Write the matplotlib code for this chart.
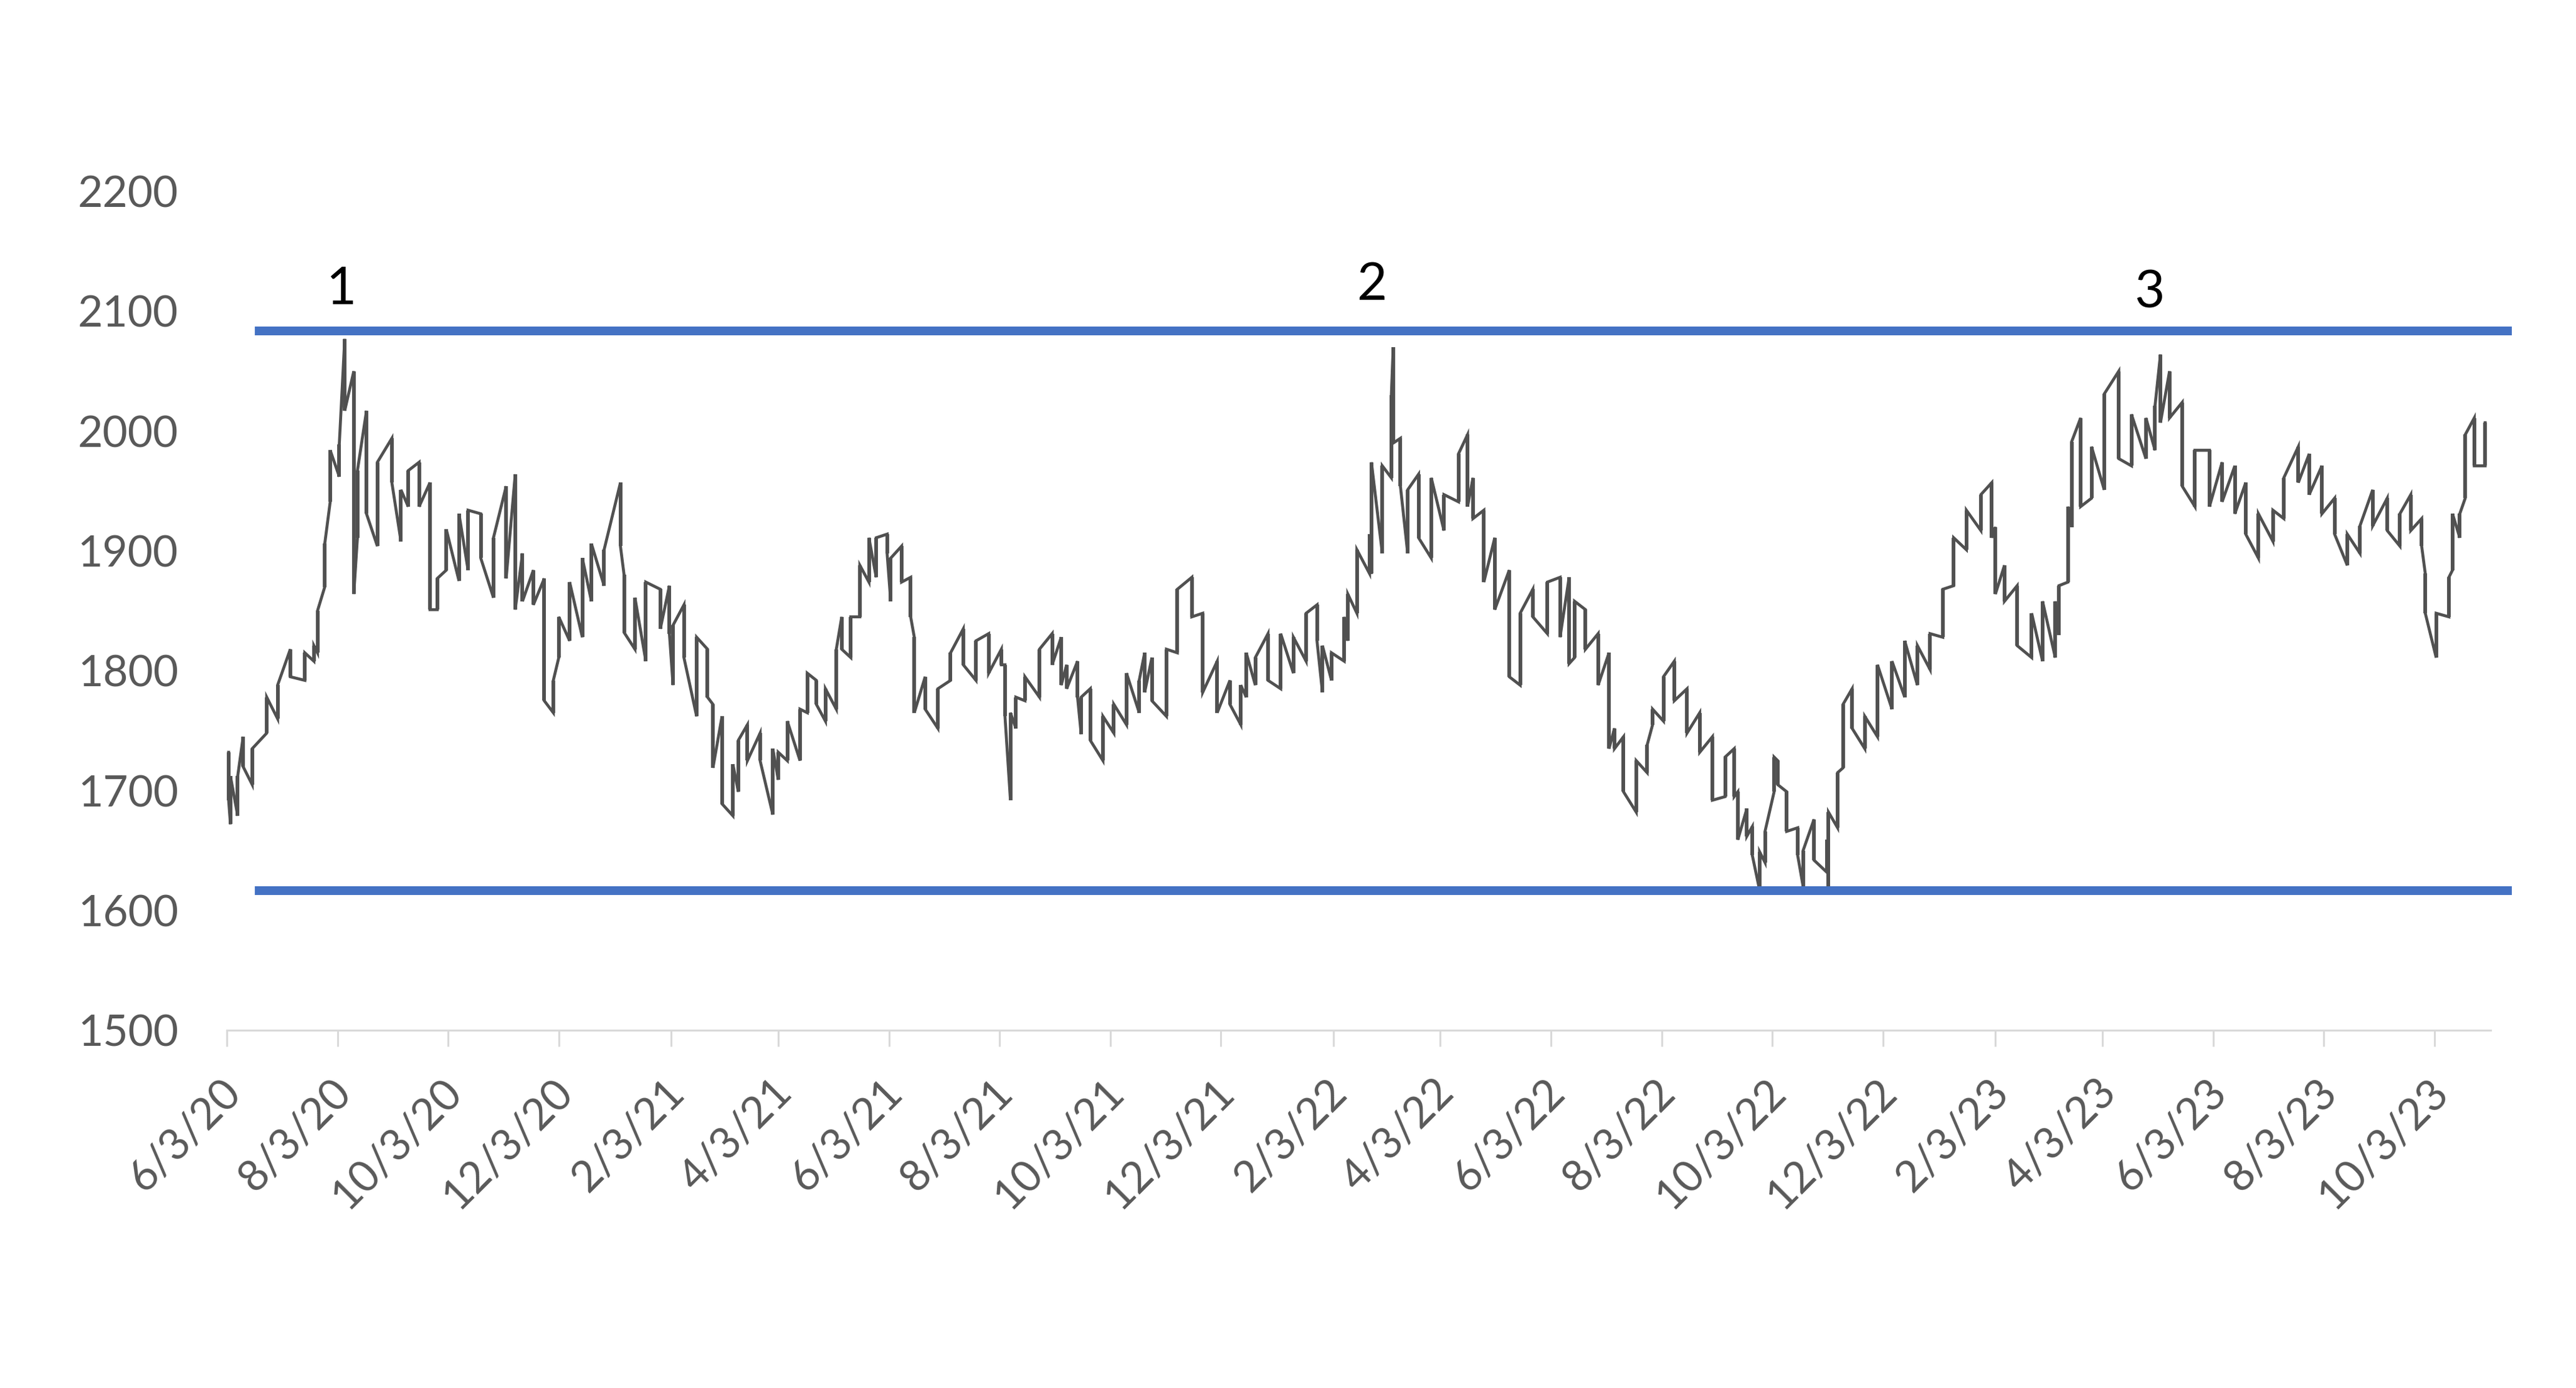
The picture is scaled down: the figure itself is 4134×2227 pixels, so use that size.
"""Daily gold price range, June 2020 - October 2023, with the 1-2-3 ceiling
and the floor of the trading range drawn as horizontal blue lines.

Writes ``out.png`` (4134 x 2227 px).
"""

import matplotlib.pyplot as plt
import matplotlib.transforms as mtransforms
import pandas as pd

plt.rcParams["font.family"] = ["Lato", "DejaVu Sans"]

# --- data: (date, high, low) of each swing -------------------------------
dates = [
    "2020-06-04", "2020-06-05", "2020-06-09", "2020-06-12", "2020-06-17",
    "2020-06-25", "2020-07-01", "2020-07-08", "2020-07-16", "2020-07-21",
    "2020-07-23", "2020-07-27", "2020-07-30", "2020-08-04", "2020-08-07",
    "2020-08-12", "2020-08-14", "2020-08-19", "2020-08-25", "2020-09-02",
    "2020-09-07", "2020-09-11", "2020-09-17", "2020-09-23", "2020-09-27",
    "2020-10-02", "2020-10-09", "2020-10-14", "2020-10-21", "2020-10-28",
    "2020-11-04", "2020-11-09", "2020-11-13", "2020-11-19", "2020-11-25",
    "2020-11-30", "2020-12-03", "2020-12-09", "2020-12-16", "2020-12-21",
    "2020-12-28", "2021-01-06", "2021-01-08", "2021-01-14", "2021-01-20",
    "2021-01-28", "2021-02-02", "2021-02-04", "2021-02-10", "2021-02-17",
    "2021-02-23", "2021-02-26", "2021-03-03", "2021-03-09", "2021-03-12",
    "2021-03-17", "2021-03-24", "2021-03-31", "2021-04-03", "2021-04-08",
    "2021-04-15", "2021-04-19", "2021-04-24", "2021-04-29", "2021-05-05",
    "2021-05-08", "2021-05-13", "2021-05-18", "2021-05-23", "2021-05-27",
    "2021-06-02", "2021-06-04", "2021-06-10", "2021-06-15", "2021-06-17",
    "2021-06-23", "2021-06-30", "2021-07-07", "2021-07-14", "2021-07-21",
    "2021-07-28", "2021-08-04", "2021-08-06", "2021-08-09", "2021-08-12",
    "2021-08-17", "2021-08-25", "2021-09-01", "2021-09-06", "2021-09-09",
    "2021-09-15", "2021-09-17", "2021-09-22", "2021-09-29", "2021-10-05",
    "2021-10-12", "2021-10-19", "2021-10-22", "2021-10-26", "2021-11-03",
    "2021-11-09", "2021-11-17", "2021-11-23", "2021-12-01", "2021-12-08",
    "2021-12-14", "2021-12-17", "2021-12-22", "2021-12-29", "2022-01-05",
    "2022-01-12", "2022-01-19", "2022-01-25", "2022-01-28", "2022-02-02",
    "2022-02-09", "2022-02-11", "2022-02-16", "2022-02-23", "2022-02-24",
    "2022-03-02", "2022-03-07", "2022-03-08", "2022-03-12", "2022-03-16",
    "2022-03-22", "2022-03-29", "2022-04-05", "2022-04-13", "2022-04-18",
    "2022-04-21", "2022-04-27", "2022-05-03", "2022-05-11", "2022-05-17",
    "2022-05-24", "2022-06-01", "2022-06-08", "2022-06-13", "2022-06-16",
    "2022-06-22", "2022-06-29", "2022-07-05", "2022-07-08", "2022-07-13",
    "2022-07-20", "2022-07-26", "2022-07-29", "2022-08-04", "2022-08-10",
    "2022-08-17", "2022-08-24", "2022-08-31", "2022-09-07", "2022-09-12",
    "2022-09-14", "2022-09-19", "2022-09-22", "2022-09-26", "2022-09-29",
    "2022-10-04", "2022-10-06", "2022-10-11", "2022-10-17", "2022-10-20",
    "2022-10-26", "2022-11-02", "2022-11-03", "2022-11-08", "2022-11-11",
    "2022-11-16", "2022-11-23", "2022-11-30", "2022-12-08", "2022-12-15",
    "2022-12-22", "2022-12-29", "2023-01-05", "2023-01-11", "2023-01-18",
    "2023-01-26", "2023-02-01", "2023-02-03", "2023-02-08", "2023-02-15",
    "2023-02-23", "2023-03-01", "2023-03-08", "2023-03-10", "2023-03-15",
    "2023-03-17", "2023-03-22", "2023-03-28", "2023-04-04", "2023-04-12",
    "2023-04-19", "2023-04-27", "2023-05-02", "2023-05-05", "2023-05-10",
    "2023-05-17", "2023-05-24", "2023-06-01", "2023-06-08", "2023-06-15",
    "2023-06-21", "2023-06-28", "2023-07-06", "2023-07-12", "2023-07-20",
    "2023-07-26", "2023-08-02", "2023-08-09", "2023-08-16", "2023-08-23",
    "2023-08-30", "2023-09-07", "2023-09-14", "2023-09-20", "2023-09-26",
    "2023-09-28", "2023-10-04", "2023-10-11", "2023-10-13", "2023-10-17",
    "2023-10-20", "2023-10-25", "2023-10-31",
]
highs = [
    1732, 1712, 1712, 1745, 1735, 1778, 1788, 1818, 1815, 1821,
    1850, 1906, 1984, 1989, 2077, 2050, 1967, 2017, 1974, 1994,
    1951, 1967, 1974, 1957, 1877, 1918, 1931, 1934, 1931, 1911,
    1954, 1964, 1898, 1884, 1877, 1792, 1845, 1874, 1894, 1906,
    1901, 1957, 1880, 1861, 1874, 1868, 1871, 1838, 1855, 1828,
    1818, 1772, 1762, 1722, 1742, 1755, 1748, 1735, 1732, 1758,
    1768, 1798, 1792, 1785, 1818, 1845, 1845, 1888, 1911, 1911,
    1914, 1894, 1904, 1878, 1828, 1795, 1785, 1815, 1835, 1825,
    1831, 1818, 1805, 1765, 1778, 1795, 1818, 1831, 1828, 1805,
    1808, 1778, 1785, 1762, 1772, 1798, 1792, 1815, 1811, 1818,
    1868, 1878, 1848, 1808, 1792, 1788, 1815, 1811, 1831, 1831,
    1828, 1848, 1855, 1821, 1815, 1845, 1864, 1901, 1914, 1974,
    1971, 2030, 2070, 1994, 1951, 1964, 1961, 1947, 1981, 1997,
    1961, 1934, 1911, 1884, 1848, 1868, 1874, 1878, 1878, 1858,
    1851, 1831, 1815, 1752, 1745, 1725, 1738, 1768, 1795, 1808,
    1785, 1765, 1745, 1728, 1735, 1699, 1685, 1670, 1649, 1666,
    1728, 1725, 1699, 1669, 1650, 1676, 1659, 1682, 1715, 1772,
    1785, 1762, 1805, 1808, 1825, 1821, 1831, 1868, 1911, 1934,
    1947, 1957, 1920, 1888, 1871, 1848, 1858, 1858, 1871, 1937,
    1991, 2011, 1987, 2031, 2050, 2014, 2011, 2021, 2064, 2050,
    2024, 1984, 1984, 1974, 1971, 1957, 1931, 1934, 1961, 1987,
    1981, 1971, 1944, 1914, 1921, 1951, 1944, 1931, 1947, 1927,
    1881, 1848, 1878, 1931, 1931, 1997, 2011, 2007,
]
lows = [
    1692, 1672, 1679, 1720, 1705, 1748, 1760, 1795, 1792, 1808,
    1815, 1870, 1941, 1962, 2017, 1864, 1911, 1931, 1904, 1957,
    1908, 1937, 1937, 1851, 1851, 1884, 1875, 1884, 1894, 1861,
    1877, 1851, 1858, 1855, 1775, 1765, 1811, 1825, 1828, 1858,
    1871, 1904, 1832, 1818, 1808, 1835, 1831, 1788, 1811, 1762,
    1778, 1719, 1689, 1679, 1699, 1725, 1725, 1680, 1709, 1725,
    1725, 1765, 1772, 1758, 1768, 1818, 1811, 1845, 1874, 1878,
    1898, 1858, 1874, 1845, 1765, 1768, 1752, 1792, 1805, 1792,
    1798, 1805, 1762, 1692, 1752, 1775, 1778, 1805, 1788, 1785,
    1778, 1747, 1742, 1725, 1748, 1755, 1765, 1782, 1775, 1762,
    1815, 1845, 1782, 1765, 1772, 1755, 1778, 1788, 1792, 1785,
    1798, 1808, 1825, 1782, 1792, 1808, 1825, 1848, 1881, 1881,
    1898, 1961, 1990, 1954, 1898, 1911, 1894, 1917, 1941, 1937,
    1927, 1874, 1851, 1795, 1788, 1845, 1831, 1828, 1806, 1811,
    1818, 1788, 1735, 1735, 1699, 1682, 1715, 1755, 1758, 1775,
    1748, 1732, 1692, 1695, 1695, 1659, 1662, 1646, 1617, 1640,
    1699, 1705, 1666, 1646, 1620, 1642, 1632, 1617, 1669, 1719,
    1752, 1735, 1745, 1768, 1778, 1788, 1801, 1828, 1871, 1901,
    1917, 1911, 1864, 1858, 1821, 1811, 1808, 1811, 1830, 1874,
    1920, 1937, 1944, 1951, 1977, 1971, 1977, 1984, 2007, 2011,
    1954, 1937, 1937, 1941, 1931, 1914, 1894, 1908, 1927, 1957,
    1947, 1931, 1914, 1888, 1898, 1921, 1917, 1904, 1917, 1904,
    1848, 1811, 1845, 1884, 1911, 1944, 1971, 1971,
]

# trading-range boundaries and the three touches of the ceiling
ceiling = 2083.5
floor = 1616.5
touch_labels = ["1", "2", "3"]
touch_dates = ["2020-08-05", "2022-02-24", "2023-04-29"]
touch_y = [2106, 2109.5, 2103]

x_start, x_end = "2020-06-03", "2023-11-03"
y_ticks = list(range(1500, 2201, 100))

GRAY_TEXT = "#595959"
AXIS_GRAY = "#D9D9D9"
PRICE = "#505050"
BLUE = "#4472C4"


def main() -> int:
    d = pd.to_datetime(dates)

    # zig-zag path through each swing: go low->high if price rises next
    px, py = [], []
    for i, (t, hi, lo) in enumerate(zip(d, highs, lows)):
        nxt = (highs[i + 1] + lows[i + 1]) if i + 1 < len(d) else hi + lo
        pair = (lo, hi) if nxt >= hi + lo else (hi, lo)
        px.extend([t, t])
        py.extend(pair)

    fig = plt.figure(figsize=(41.34, 22.27), dpi=100)
    ax = fig.add_axes([0.08805, 0.2577, 0.8788, 0.6044])

    # high-low bars plus the path that joins them
    ax.vlines(d, lows, highs, color=PRICE, linewidth=4.2, zorder=3)
    ax.plot(px, py, color=PRICE, linewidth=3.4, solid_joinstyle="miter",
            zorder=3)

    # range lines run a bit past the plot area, like drawn shapes
    ytr = ax.get_yaxis_transform()
    for level in (ceiling, floor):
        ax.plot([0.0124, 1.0094], [level, level], transform=ytr,
                color=BLUE, linewidth=10.1, solid_capstyle="butt",
                clip_on=False, zorder=4)

    for lab, t, y in zip(touch_labels, touch_dates, touch_y):
        ax.text(pd.Timestamp(t), y, lab, ha="center", va="baseline",
                fontsize=60, color="black", zorder=5)

    ax.set_xlim(pd.Timestamp(x_start), pd.Timestamp(x_end))
    ax.set_ylim(1500, 2200)

    xt = pd.date_range("2020-06-01", "2023-10-01", freq="2MS") + pd.Timedelta(days=2)
    ax.set_xticks(xt)
    ax.set_xticklabels([f"{t.month}/{t.day}/{t.strftime('%y')}" for t in xt])
    ax.set_yticks(y_ticks)
    ax.set_yticklabels([str(v) for v in y_ticks])

    for side in ("top", "right", "left"):
        ax.spines[side].set_visible(False)
    ax.spines["bottom"].set_color(AXIS_GRAY)
    ax.spines["bottom"].set_linewidth(2.2)

    ax.tick_params(axis="x", direction="out", length=19, width=2.2,
                   color=AXIS_GRAY, labelsize=50, labelcolor=GRAY_TEXT,
                   pad=45)
    ax.tick_params(axis="y", length=0, labelsize=50, labelcolor=GRAY_TEXT,
                   pad=56)

    shift = mtransforms.ScaledTranslation(0.11, 0, fig.dpi_scale_trans)
    for lab in ax.get_xticklabels():
        lab.set_rotation(45)
        lab.set_ha("right")
        lab.set_va("center")
        lab.set_rotation_mode("anchor")
        lab.set_transform(lab.get_transform() + shift)

    fig.savefig("out.png", dpi=100, facecolor="white")
    return 0


if __name__ == "__main__":
    raise SystemExit(main())
